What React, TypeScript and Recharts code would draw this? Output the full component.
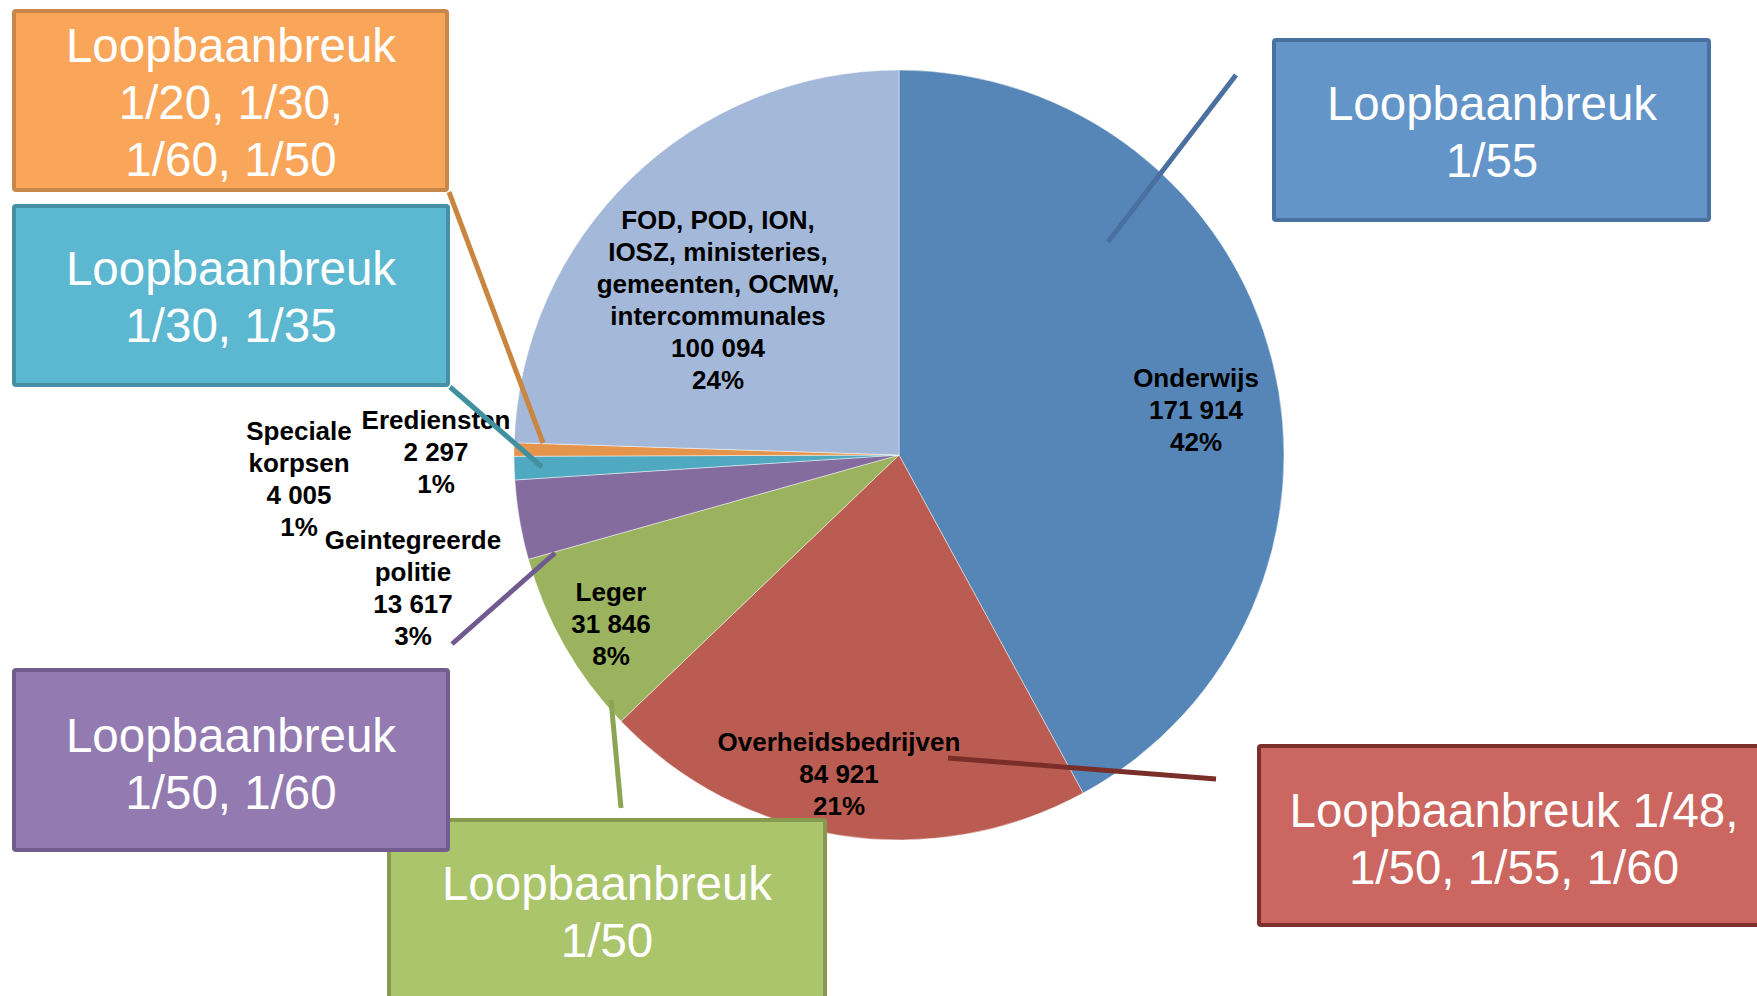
import { PieChart, Pie, Cell } from 'recharts';

// sectors of the public service, clockwise from 12 o'clock
const categories = [
  'Onderwijs',
  'Overheidsbedrijven',
  'Leger',
  'Geintegreerde politie',
  'Speciale korpsen',
  'Erediensten',
  'FOD, POD, ION, IOSZ, ministeries, gemeenten, OCMW, intercommunales',
];
const values = [171914, 84921, 31846, 13617, 4005, 2297, 100094];
const labelNames = [
  ['Onderwijs'],
  ['Overheidsbedrijven'],
  ['Leger'],
  ['Geintegreerde', 'politie'],
  ['Speciale', 'korpsen'],
  ['Erediensten'],
  ['FOD, POD, ION,', 'IOSZ, ministeries,', 'gemeenten, OCMW,', 'intercommunales'],
];
const breukTexts = [
  ['Loopbaanbreuk', '1/55'],
  ['Loopbaanbreuk 1/48,', '1/50, 1/55, 1/60'],
  ['Loopbaanbreuk', '1/50'],
  ['Loopbaanbreuk', '1/50, 1/60'],
  ['Loopbaanbreuk', '1/30, 1/35'],
  ['Loopbaanbreuk', '1/20, 1/30,', '1/60, 1/50'],
  [],
];

const sliceColors = ['#5686b8', '#bb5c52', '#9bb25e', '#846d9e', '#4fa9c0', '#e5954b', '#a4b9d9'];
const boxFills = ['#6495c9', '#cc6660', '#abc56d', '#937bb1', '#5cb8d1', '#f9a65a'];
const boxBorders = ['#4a72a0', '#7b302c', '#87994f', '#735d8f', '#4590a4', '#c7874a'];
const lineColors = ['#4a70a0', '#7a2e2a', '#8ba552', '#705a90', '#40909f', '#c98640'];

const W = 1757;
const H = 996;
const FONT = '"Liberation Sans", Arial, sans-serif';

const total = values.reduce((a, b) => a + b, 0);
const data = categories.map((name, i) => ({ name, value: values[i] }));

const fmt = (v: number) => String(v).replace(/\B(?=(\d{3})+(?!\d))/g, ' ');

// label placement: offset of first text line from pie centre
const labelPos: [number, number][] = [
  [297, -77],
  [-60, 287],
  [-288, 137],
  [-486, 85],
  [-600, -24],
  [-463, -35],
  [-181, -235],
];

// callout boxes: rect, text centre/baseline, leader line
const callouts = [
  { box: [1274, 40, 435, 180], tx: 1492, ty: 120, line: [1236, 75, 1108, 242] },
  { box: [1259, 746, 520, 179], tx: 1514, ty: 827, line: [1216, 779, 948, 758] },
  { box: [389, 820, 436, 200], tx: 607, ty: 900, line: [621, 808, 611, 700] },
  { box: [14, 670, 434, 180], tx: 231, ty: 752, line: [452, 644, 555, 553] },
  { box: [14, 206, 434, 179], tx: 231, ty: 285, line: [450, 387, 542, 467] },
  { box: [14, 11, 433, 179], tx: 231, ty: 62, line: [449, 192, 543, 443] },
];

function renderLabel(props: any) {
  const { cx, cy } = props;
  let i = props.index;
  if (i == null) i = categories.indexOf(props.name);
  const [dx, dy] = labelPos[i];
  const lines = [...labelNames[i], fmt(values[i]), `${Math.round((values[i] / total) * 100)}%`];
  return (
    <text
      key={`lbl-${i}`}
      x={cx + dx}
      y={cy + dy}
      textAnchor="middle"
      fontFamily={FONT}
      fontWeight="bold"
      fontSize={26}
      fill="#000"
    >
      {lines.map((l, k) => (
        <tspan key={k} x={cx + dx} y={cy + dy + k * 32} dominantBaseline="central">
          {l}
        </tspan>
      ))}
    </text>
  );
}

export default function App() {
  return (
    <div style={{ position: 'absolute', left: 0, top: 0, width: W, height: H, overflow: 'hidden', background: '#fff' }}>
      <PieChart width={W} height={H} margin={{ top: 0, right: 0, bottom: 0, left: 0 }}>
        <Pie
          data={data}
          dataKey="value"
          nameKey="name"
          cx={899}
          cy={455}
          outerRadius={385}
          startAngle={90}
          endAngle={-270}
          label={renderLabel}
          labelLine={false}
          isAnimationActive={false}
        >
          {data.map((d, i) => (
            <Cell key={`cell-${i}`} fill={sliceColors[i]} stroke="#ffffff" strokeOpacity={0.45} strokeWidth={1} />
          ))}
        </Pie>
      </PieChart>
      <svg width={W} height={H} style={{ position: 'absolute', left: 0, top: 0, pointerEvents: 'none' }}>
        {callouts.map((c, i) => (
          <line
            key={`ln-${i}`}
            x1={c.line[0]}
            y1={c.line[1]}
            x2={c.line[2]}
            y2={c.line[3]}
            stroke={lineColors[i]}
            strokeWidth={5}
          />
        ))}
        {callouts.map((c, i) => (
          <g key={`box-${i}`}>
            <rect
              x={c.box[0]}
              y={c.box[1]}
              width={c.box[2]}
              height={c.box[3]}
              fill={boxFills[i]}
              stroke={boxBorders[i]}
              strokeWidth={4}
              rx={2}
            />
            <text x={c.tx} y={c.ty} textAnchor="middle" fontFamily={FONT} fontSize={47.5} fill="#fff">
              {breukTexts[i].map((t, k) => (
                <tspan key={k} x={c.tx} y={c.ty + k * 57}>
                  {t}
                </tspan>
              ))}
            </text>
          </g>
        ))}
      </svg>
    </div>
  );
}
